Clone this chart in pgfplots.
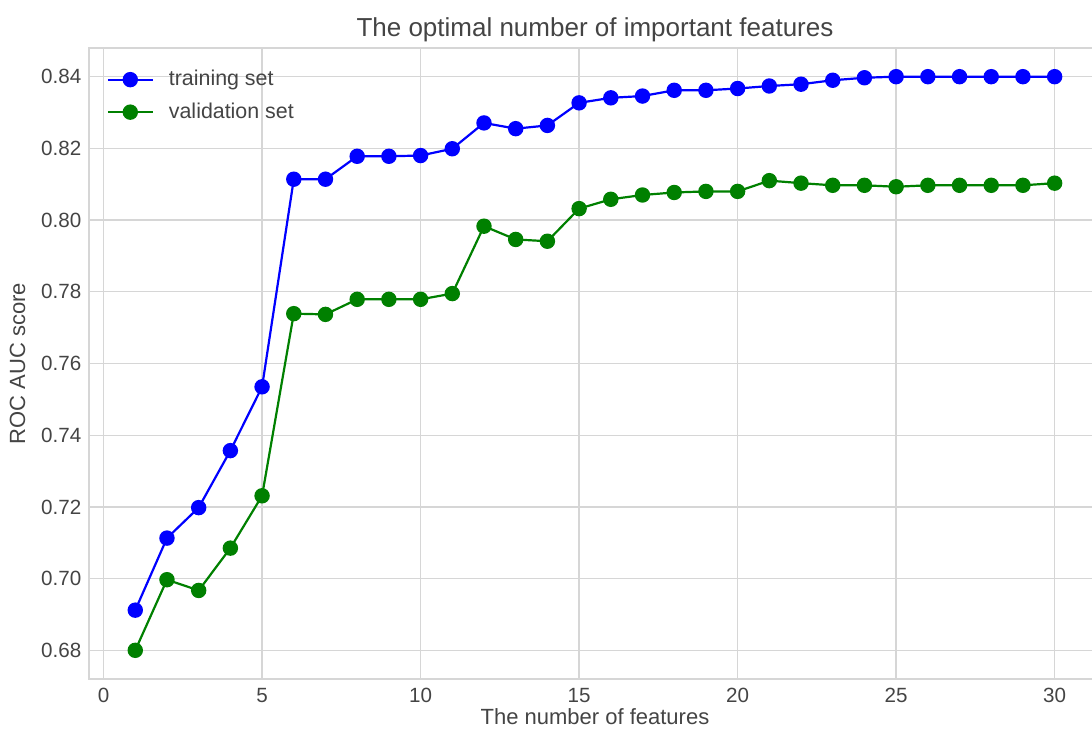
\documentclass[border=0pt]{standalone}
\usepackage{fontspec}
\setmainfont{Liberation Sans}
\usepackage{pgfplots}
\pgfplotsset{compat=1.18}
\definecolor{gridc}{HTML}{D6D6D6}
\definecolor{txtc}{HTML}{444444}
\definecolor{mplgreen}{RGB}{0,128,0}
\begin{document}
\begin{tikzpicture}
\begin{axis}[
  scale only axis,
  width=505.65pt, height=315.5pt,
  xmin=-0.45, xmax=31.45,
  ymin=0.672, ymax=0.848,
  xtick={0,5,10,15,20,25,30},
  ytick={0.68,0.70,...,0.841},
  y tick label style={/pgf/number format/fixed, /pgf/number format/fixed zerofill, /pgf/number format/precision=2, xshift=-0.5pt},
  /pgf/number format/assume math mode=true,
  tick style={draw=none},
  grid=major,
  major grid style={gridc, line width=0.7pt},
  axis line style={gridc, line width=0.8pt},
  tick label style={font=\fontsize{10.3}{12}\selectfont, text=txtc},
  x tick label style={yshift=-1pt},
  label style={font=\fontsize{11}{13}\selectfont, text=txtc},
  xlabel={The number of features},
  ylabel={ROC AUC score},
  xlabel style={yshift=4pt},
  ylabel style={yshift=1pt},
  title={The optimal number of important features},
  title style={font=\fontsize{13}{15}\selectfont, text=txtc, at={(0.5,1)}, anchor=south, yshift=-6.5pt},
  legend style={at={(0,1)}, anchor=north west, xshift=5.5pt, yshift=-7pt, draw=none, fill=none,
    font=\fontsize{10.7}{12.5}\selectfont, text=txtc, row sep=3pt},
  legend cell align=left,
  legend image code/.code={\draw[mark repeat=2,mark phase=2] plot coordinates {(0pt,0pt)(11.25pt,0pt)(22.5pt,0pt)}; \path (28pt,0pt);},
]
\addplot[blue, line width=1.1pt, mark=*, mark size=3.3pt, mark options={solid}] coordinates {
(1,0.6912)(2,0.7113)(3,0.7198)(4,0.7357)(5,0.7535)(6,0.8114)(7,0.8114)(8,0.8178)(9,0.8178)(10,0.8180)
(11,0.8199)(12,0.8271)(13,0.8255)(14,0.8264)(15,0.8327)(16,0.8341)(17,0.8346)(18,0.8362)(19,0.8362)(20,0.8367)
(21,0.8374)(22,0.8379)(23,0.8390)(24,0.8397)(25,0.8400)(26,0.8400)(27,0.8400)(28,0.8400)(29,0.8400)(30,0.8400)};
\addlegendentry{training set}
\addplot[mplgreen, line width=1.1pt, mark=*, mark size=3.3pt, mark options={solid}] coordinates {
(1,0.6800)(2,0.6997)(3,0.6967)(4,0.7085)(5,0.7231)(6,0.7739)(7,0.7737)(8,0.7779)(9,0.7779)(10,0.7779)
(11,0.7795)(12,0.7983)(13,0.7946)(14,0.7941)(15,0.8032)(16,0.8058)(17,0.8070)(18,0.8077)(19,0.8080)(20,0.8080)
(21,0.8110)(22,0.8103)(23,0.8097)(24,0.8097)(25,0.8093)(26,0.8097)(27,0.8097)(28,0.8097)(29,0.8097)(30,0.8103)};
\addlegendentry{validation set}
\end{axis}
\pgfresetboundingbox
\path[use as bounding box] (-44.65pt,-25pt) rectangle (501.35pt,339.5pt);
\end{tikzpicture}
\end{document}
